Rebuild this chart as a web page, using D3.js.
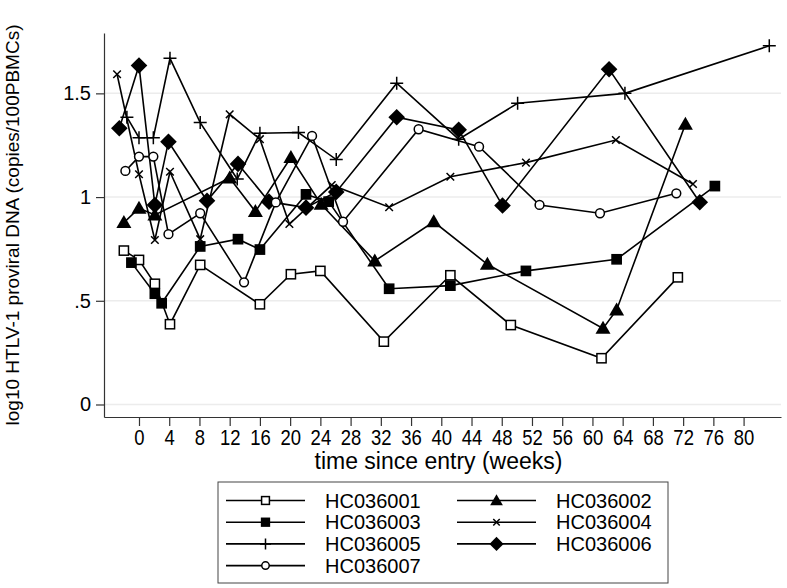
<!DOCTYPE html>
<html>
<head>
<meta charset="utf-8">
<script src="https://cdn.jsdelivr.net/npm/d3@7"></script>
<style>
body { margin: 0; background: #fff; }
text { font-family: "Liberation Sans", Arial, sans-serif; fill: #000; }
</style>
</head>
<body>
<div id="chart"></div>
<script>
var w = 787;
var h = 588;

// weeks since entry and log10 proviral load, one pair of arrays per patient
var names = ["HC036001", "HC036002", "HC036003", "HC036004", "HC036005", "HC036006", "HC036007"];
var markers = ["squareOpen", "triangle", "square", "x", "plus", "diamond", "circle"];

var weeks001 = [-2, 0, 2.1, 4.1, 8.1, 16, 20.1, 24, 32.4, 41.2, 49.2, 61.2, 71.3];
var vals001 = [0.742, 0.697, 0.582, 0.387, 0.673, 0.483, 0.628, 0.644, 0.303, 0.623, 0.383, 0.223, 0.613];

var weeks002 = [-2, 0, 2.1, 12, 15.4, 20.1, 24.1, 31.2, 39, 46.1, 61.4, 63.2, 72.3];
var vals002 = [0.877, 0.946, 0.914, 1.092, 0.930, 1.191, 0.965, 0.692, 0.881, 0.676, 0.367, 0.456, 1.351];

var weeks003 = [-1, 2.1, 3, 8.1, 13.1, 16, 22.1, 25.1, 33.1, 41.2, 51.2, 63.2, 76.2];
var vals003 = [0.684, 0.534, 0.488, 0.762, 0.797, 0.747, 1.013, 0.978, 0.558, 0.573, 0.644, 0.700, 1.053];

var weeks004 = [-2.9, 0, 2.1, 4.1, 8.1, 12, 16, 19.9, 25.5, 33.1, 41.2, 51.2, 63.1, 73.3];
var vals004 = [1.592, 1.110, 0.793, 1.122, 0.797, 1.399, 1.279, 0.870, 1.058, 0.951, 1.098, 1.166, 1.275, 1.063];

var weeks005 = [-1.6, 0, 1.9, 4.1, 8.1, 13, 16, 21.1, 26.1, 34.1, 42.3, 50.1, 64.3, 83.4];
var vals005 = [1.385, 1.286, 1.286, 1.669, 1.359, 1.087, 1.308, 1.311, 1.181, 1.549, 1.279, 1.452, 1.500, 1.729];

var weeks006 = [-2.6, 0, 2.1, 3.9, 9, 13.1, 17.2, 22.1, 26.1, 34.1, 42.3, 48.1, 62.2, 74.2];
var vals006 = [1.332, 1.634, 0.962, 1.267, 0.982, 1.160, 0.978, 0.949, 1.025, 1.385, 1.324, 0.959, 1.616, 0.975];

var weeks007 = [-1.8, 0, 1.9, 3.9, 8.1, 13.9, 18.1, 22.9, 27, 37, 45, 53, 61, 71.1];
var vals007 = [1.126, 1.195, 1.195, 0.821, 0.922, 0.589, 0.974, 1.295, 0.881, 1.327, 1.243, 0.962, 0.922, 1.018];

var allWeeks = [weeks001, weeks002, weeks003, weeks004, weeks005, weeks006, weeks007];
var allVals = [vals001, vals002, vals003, vals004, vals005, vals006, vals007];

var xTicks = d3.range(0, 81, 4);
var yTicks = [0, 0.5, 1, 1.5];
var yTickLabels = ["0", ".5", "1", "1.5"];

var series = names.map(function(n, i) {
	return {
		name: n,
		marker: markers[i],
		points: allWeeks[i].map(function(wk, j) { return { week: wk, value: allVals[i][j] }; })
	};
});

var svg = d3.select("#chart")
	.append("svg")
	.attr("width", w)
	.attr("height", h);

var plotLeft = 104, plotRight = 781, plotTop = 33, plotBottom = 417;

var xScale = d3.scaleLinear()
	.domain([-4.63, 84.95])
	.range([plotLeft, plotRight]);

var yScale = d3.scaleLinear()
	.domain([-0.0603, 1.791])
	.range([plotBottom, plotTop]);

// grid lines
svg.selectAll("line.grid")
	.data(yTicks)
	.enter()
	.append("line")
	.attr("class", "grid")
	.attr("x1", plotLeft)
	.attr("x2", plotRight)
	.attr("y1", function(d) { return yScale(d); })
	.attr("y2", function(d) { return yScale(d); })
	.attr("stroke", "#ececec")
	.attr("stroke-width", 1.5);

// axes
var yAxis = d3.axisLeft(yScale)
	.tickValues(yTicks)
	.tickFormat(function(d, i) { return yTickLabels[i]; })
	.tickSize(8)
	.tickSizeOuter(0)
	.tickPadding(5);

var xAxis = d3.axisBottom(xScale)
	.tickValues(xTicks)
	.tickSize(9)
	.tickSizeOuter(0)
	.tickPadding(3);

var gy = svg.append("g")
	.attr("transform", "translate(" + plotLeft + ",0)")
	.call(yAxis);

var gx = svg.append("g")
	.attr("transform", "translate(0," + plotBottom + ")")
	.call(xAxis);

[gx, gy].forEach(function(g) {
	g.selectAll("path, line").attr("stroke", "#333").attr("stroke-width", 1.2);
	g.selectAll("text").style("font-size", "20px").attr("fill", "#000")
		.style("font-family", "'Liberation Sans', Arial, sans-serif");
});
// x tick labels are tall and narrow in the original
gx.selectAll("text")
	.style("font-size", "22px")
	.attr("transform", "scale(0.84,1)");

// axis titles
svg.append("text")
	.attr("x", (plotLeft + plotRight) / 2 - 4)
	.attr("y", 469)
	.attr("text-anchor", "middle")
	.style("font-size", "23px")
	.text("time since entry (weeks)");

svg.append("text")
	.attr("transform", "translate(19," + ((plotTop + plotBottom) / 2) + ") rotate(-90)")
	.attr("text-anchor", "middle")
	.style("font-size", "19px")
	.text("log10 HTLV-1 proviral DNA (copies/100PBMCs)");

// marker drawing
function drawMarker(g, type, cx, cy, s) {
	s = s || 1;
	if (type === "squareOpen" || type === "square") {
		var a = 4.6 * s;
		g.append("rect")
			.attr("x", cx - a).attr("y", cy - a)
			.attr("width", 2 * a).attr("height", 2 * a)
			.attr("fill", type === "square" ? "#000" : "#fff")
			.attr("stroke", "#000").attr("stroke-width", 1.5);
	} else if (type === "triangle") {
		var t = 7.5 * s;
		g.append("path")
			.attr("d", "M" + cx + "," + (cy - t) + "L" + (cx + t) + "," + (cy + t * 0.73) + "L" + (cx - t) + "," + (cy + t * 0.73) + "Z")
			.attr("fill", "#000");
	} else if (type === "diamond") {
		var d = 8.3 * s;
		g.append("path")
			.attr("d", "M" + cx + "," + (cy - d) + "L" + (cx + d) + "," + cy + "L" + cx + "," + (cy + d) + "L" + (cx - d) + "," + cy + "Z")
			.attr("fill", "#000");
	} else if (type === "circle") {
		g.append("circle")
			.attr("cx", cx).attr("cy", cy).attr("r", 4.4 * s)
			.attr("fill", "#fff").attr("stroke", "#000").attr("stroke-width", 1.5);
	} else if (type === "plus") {
		var p = 6.5 * s;
		g.append("path")
			.attr("d", "M" + (cx - p) + "," + cy + "H" + (cx + p) + "M" + cx + "," + (cy - p) + "V" + (cy + p))
			.attr("stroke", "#000").attr("stroke-width", 1.5);
	} else if (type === "x") {
		var q = 3.8 * s;
		g.append("path")
			.attr("d", "M" + (cx - q) + "," + (cy - q) + "L" + (cx + q) + "," + (cy + q) + "M" + (cx - q) + "," + (cy + q) + "L" + (cx + q) + "," + (cy - q))
			.attr("stroke", "#000").attr("stroke-width", 1.5);
	}
}

var line = d3.line()
	.x(function(d) { return xScale(d.week); })
	.y(function(d) { return yScale(d.value); });

series.forEach(function(s) {
	var g = svg.append("g");
	g.append("path")
		.datum(s.points)
		.attr("d", line)
		.attr("fill", "none")
		.attr("stroke", "#000")
		.attr("stroke-width", 1.6);
	s.points.forEach(function(p) {
		drawMarker(g, s.marker, xScale(p.week), yScale(p.value), 1);
	});
});

// legend
var legend = svg.append("g");
legend.append("rect")
	.attr("x", 218).attr("y", 482)
	.attr("width", 450).attr("height", 101)
	.attr("fill", "#fff")
	.attr("stroke", "#444")
	.attr("stroke-width", 1);

series.forEach(function(s, i) {
	var col = i % 2, row = Math.floor(i / 2);
	var lx = col === 0 ? 226 : 457;
	var ly = 500.5 + row * 21.7;
	var g = legend.append("g");
	g.append("line")
		.attr("x1", lx).attr("x2", lx + 79)
		.attr("y1", ly).attr("y2", ly)
		.attr("stroke", "#000").attr("stroke-width", 1.6);
	drawMarker(g, s.marker, lx + 39.5, ly, 0.85);
	g.append("text")
		.attr("x", lx + 99)
		.attr("y", ly + 7)
		.style("font-size", "20px")
		.text(s.name);
});
</script>
</body>
</html>
